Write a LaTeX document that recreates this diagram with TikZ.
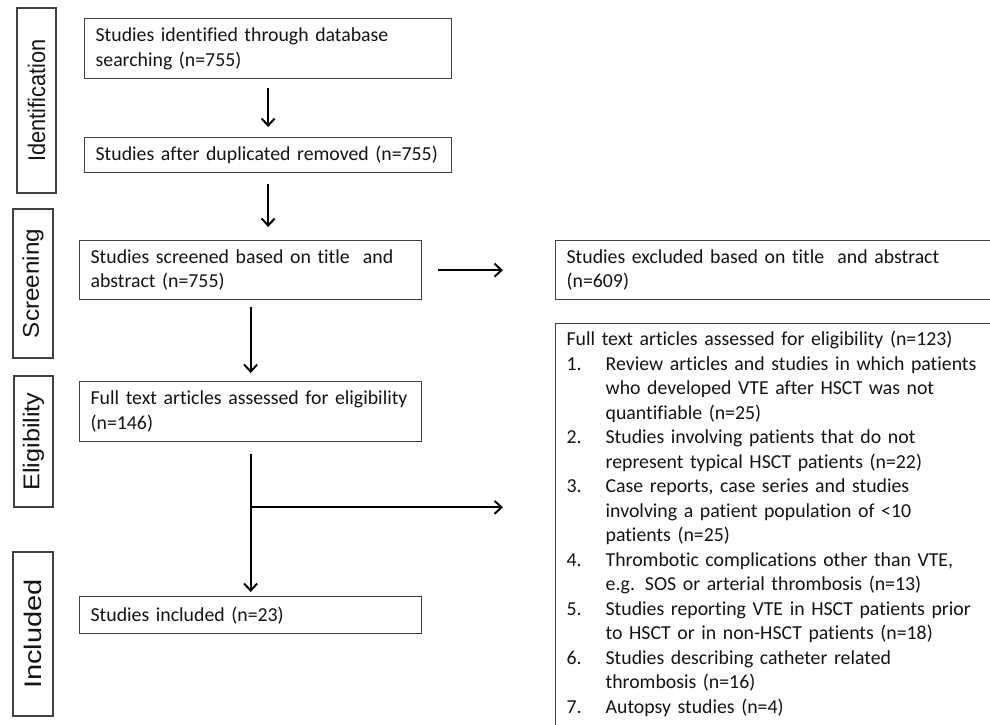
\documentclass[tikz,border=0pt]{standalone}
\usepackage{fontspec}
\setmainfont{Carlito}[WordSpace=0.85,Ligatures=NoCommon]
\newfontfamily\labfont{Liberation Sans}
\usetikzlibrary{arrows.meta,calc}
\definecolor{boxc}{HTML}{404040}
\definecolor{txtc}{HTML}{141414}
\newcommand\fs{\fontsize{19.8pt}{24.5pt}\selectfont}
\newcommand\lfs{\labfont\fontsize{24pt}{24pt}\selectfont}
\tikzset{
  box/.style={draw=boxc, line width=1.3pt, inner xsep=11pt, inner ysep=0pt,
    align=left, anchor=north west, font=\fs, text=txtc},
  rbox/.style={draw=boxc, line width=1.3pt, inner xsep=11pt, inner ysep=5pt,
    anchor=north west, font=\fs, text=txtc},
  lab/.style={draw=boxc, line width=1.3pt, rotate=90, inner sep=0pt, font=\lfs, text=txtc},
  arr/.style={line width=2pt, -{Straight Barb[length=7pt,width=13pt]}},
}
\begin{document}
\begin{tikzpicture}[x=1pt,y=-1pt]
\path[use as bounding box] (0,0) rectangle (990,724);
\clip (0,0) rectangle (990,724);
\fill[white] (0,0) rectangle (990,724);

% stage labels
\node[lab, minimum width=185pt, minimum height=39pt] (L1) at (36.5,100.5)
  {\scalebox{0.905}[1.0]{Identification}};
\node[lab, minimum width=149pt, minimum height=40pt] (L2) at (33,283.5)
  {\scalebox{1.01}[0.95]{Screening}};
\node[lab, minimum width=131pt, minimum height=39pt] (L3) at (33.5,441.5)
  {\scalebox{1.05}[0.95]{Eligibility}};
\node[lab, minimum width=164pt, minimum height=40pt] (L4) at (33,634)
  {\scalebox{1.21}[1.0]{Included}};

% main column
\node[box, text width=345pt, minimum height=60pt] (ident) at (84,18)
  {Studies identified through database\\searching (n=755)};
\node[box, text width=345pt, minimum height=35pt] (dup) at (84,137)
  {\mbox{Studies after duplicated removed (n=755)}};
\node[box, text width=320pt, minimum height=59pt] (screen) at (79,240)
  {\mbox{Studies screened based on title\ \ and}\\abstract (n=755)};
\node[box, text width=320pt, minimum height=60pt] (full) at (79,381)
  {\mbox{Full text articles assessed for eligibility}\\(n=146)};
\node[box, text width=320pt, minimum height=37pt] (incl) at (79,596)
  {Studies included (n=23)};

% right column
\node[box, text width=420pt, minimum height=59pt] (excl) at (555,240)
  {Studies excluded based on title\ \ and abstract\\(n=609)};
\node[rbox, text width=420pt] (fullex) at (555,323) {\noindent
  \begin{tabular}{@{}p{39pt}@{}l@{}}
  \multicolumn{2}{@{}l@{}}{Full text articles assessed for eligibility (n=123)}\\
  1. & Review articles and studies in which patients\\
     & who developed VTE after HSCT was not\\
     & quantifiable (n=25)\\
  2. & Studies involving patients that do not\\
     & represent typical HSCT patients (n=22)\\
  3. & Case reports, case series and studies\\
     & involving a patient population of <10\\
     & patients (n=25)\\
  4. & Thrombotic complications other than VTE,\\
     & e.g. SOS or arterial thrombosis (n=13)\\
  5. & Studies reporting VTE in HSCT patients prior\\
     & to HSCT or in non-HSCT patients (n=18)\\
  6. & Studies describing catheter related\\
     & thrombosis (n=16)\\
  7. & Autopsy studies (n=4)\\[12pt]
  \end{tabular}};

% connectors
\draw[arr, shorten <=9pt, shorten >=10pt] (ident) -- (dup);
\draw[arr, shorten <=11pt, shorten >=13pt] (dup.south) -- (dup.south |- screen.north);
\draw[arr, shorten <=7pt, shorten >=8pt] (screen) -- (full);
\draw[arr, shorten <=16pt, shorten >=52pt] (screen) -- (excl);
\draw[arr, shorten <=12pt, shorten >=4pt] (full) -- (incl);
\coordinate (br) at ($(full.south)+(0,65)$);
\draw[arr, shorten >=52pt] (br) -- (br -| fullex.west);
\end{tikzpicture}
\end{document}
